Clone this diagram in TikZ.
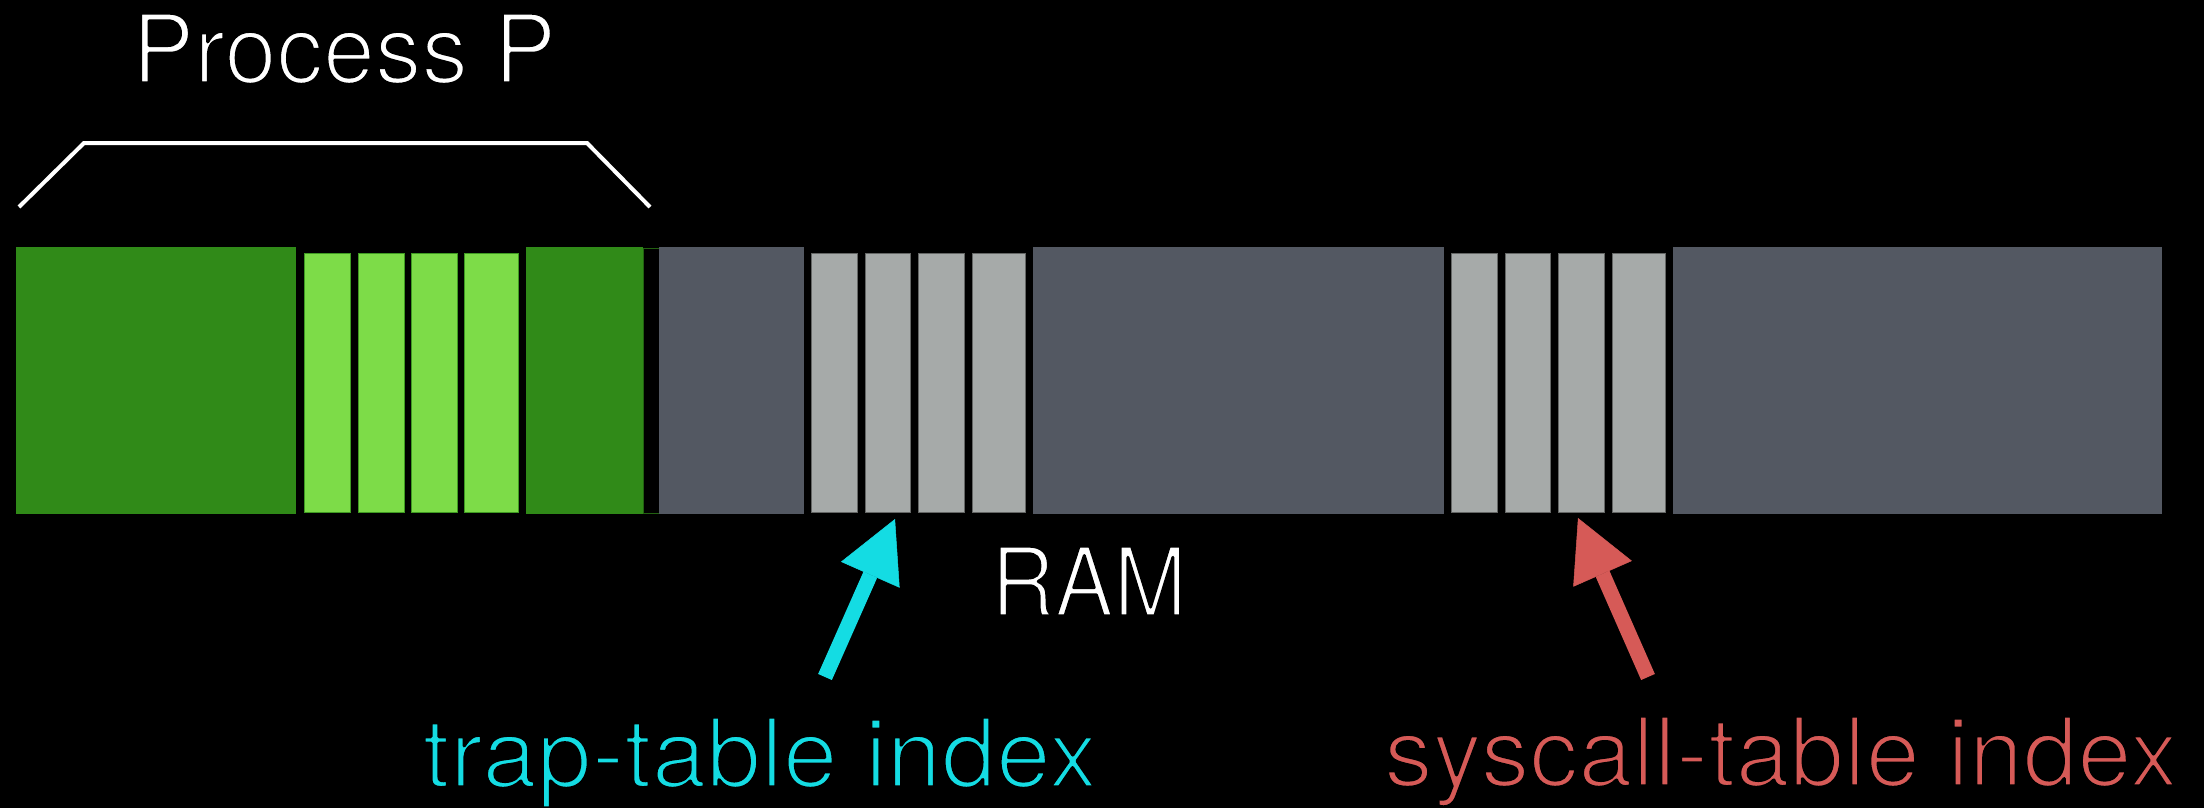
\documentclass[tikz,border=0pt]{standalone}
\usepackage{fontspec}
\usepackage{graphicx}
\usetikzlibrary{arrows.meta}
\newfontfamily\labelfont{TeX Gyre Heros}

% light cut of the label face: the glyph outlines get a black stroke,
% which thins the strokes against the black background
\newcommand\lighttext[1]{%
  \special{pdf:literal direct 0 G 3.2 w 1 j 2 Tr}#1\special{pdf:literal direct 0 Tr}}

\definecolor{procdark}{HTML}{308A18}
\definecolor{proclight}{HTML}{7DDC48}
\definecolor{ramdark}{HTML}{535862}
\definecolor{ramlight}{HTML}{A6AAA9}
\definecolor{trapcol}{HTML}{14DCE3}
\definecolor{syscol}{HTML}{D65A57}

\tikzset{
  procblock/.style={fill=procdark},
  procslot/.style={fill=proclight, draw=procdark!80!proclight, line width=1pt},
  ramblock/.style={fill=ramdark},
  ramslot/.style={fill=ramlight, draw=ramlight!60!black, line width=1pt},
  gapblock/.style={fill=black, draw=procdark!70!black, line width=1pt},
  lbl/.style={inner sep=0pt, anchor=base, font=\labelfont\fontsize{96}{115}\selectfont},
  pointer/.style={line width=15pt, -{Triangle[length=61pt,width=64pt,line width=0.5pt]}},
}

\begin{document}
\begin{tikzpicture}[x=1pt,y=-1pt]
  \fill[black] (0,0) rectangle (2204,808);
  \useasboundingbox (0,0) rectangle (2204,808);

  % process P memory region
  \path[procblock] (16,247) rectangle (296,514);
  \foreach \a/\b in {304/350,358/404,411/457,464/518}
    \path[procslot] (\a,253) rectangle (\b,512);
  \path[procblock] (526,247) rectangle (643,514);
  \path[gapblock] (643.5,248.5) rectangle (659,513.5);

  % rest of RAM
  \path[ramblock] (659,247) rectangle (804,514);
  \foreach \a/\b in {811/857,865/910,918/964,972/1025}
    \path[ramslot] (\a,253) rectangle (\b,512);
  \path[ramblock] (1033,247) rectangle (1444,514);
  \foreach \a/\b in {1451/1497,1505/1550,1558/1604,1612/1665}
    \path[ramslot] (\a,253) rectangle (\b,512);
  \path[ramblock] (1673,247) rectangle (2162,514);

  % bracket over the process region
  \draw[white, line width=4pt, line join=miter]
    (19,207) -- (84,143) -- (587,143) -- (650,207);

  % labels
  \node[lbl, white] (proc) at (344,83) {\resizebox{424pt}{\height}{\lighttext{Process P}}};
  \node[lbl, white] (ram) at (1089,616) {\resizebox{196pt}{\height}{\lighttext{RAM}}};
  \node[lbl, trapcol] (trap) at (760,787) {\resizebox{675pt}{\height}{\lighttext{trap-table index}}};
  \node[lbl, syscol] (sys) at (1781,786) {\resizebox{794pt}{\height}{\lighttext{syscall-table index}}};

  % pointers into the two tables
  \coordinate (trapfrom) at (825,677);
  \coordinate (trapto) at (895,519);
  \coordinate (sysfrom) at (1648,677);
  \coordinate (systo) at (1578,518);
  \draw[pointer, trapcol] (trapfrom) -- (trapto);
  \draw[pointer, syscol] (sysfrom) -- (systo);
\end{tikzpicture}
\end{document}
